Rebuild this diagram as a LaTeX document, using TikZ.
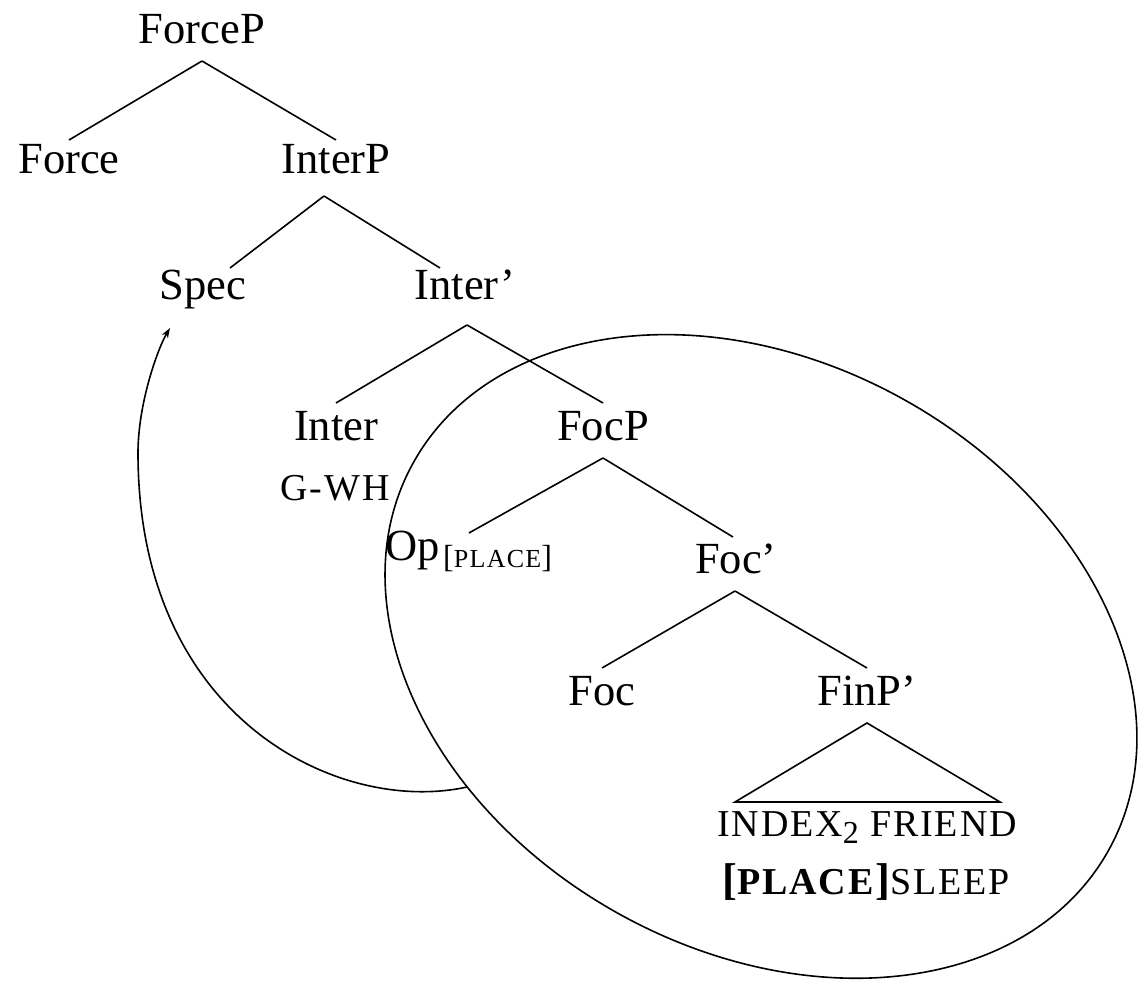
\documentclass[tikz,border=0pt]{standalone}
\usepackage{fontspec}
\setmainfont{Liberation Serif}
\newfontfamily\scf[LetterSpace=5]{Liberation Serif}
\usetikzlibrary{arrows.meta}
\newcommand\smc[1]{{\scf\fontsize{38}{38}\selectfont #1}}
\newcommand\smcb[1]{{\scf\bfseries\fontsize{38}{38}\selectfont #1}}
\begin{document}
\begin{tikzpicture}[x=1pt,y=-1pt,
  lab/.style={anchor=base,inner sep=0pt,font=\fontsize{44.5}{50}\selectfont},
  every path/.style={line width=1.6pt}]
\useasboundingbox (0,0) rectangle (1146,984);
% nodes
\node[lab] (ForceP) at (202,44) {ForceP};
\node[lab] (Force) at (69,174) {Force};
\node[lab] (InterP) at (336,174) {InterP};
\node[lab] (Spec) at (203,300) {Spec};
\node[lab] (Interb) at (465,300) {Inter’};
\node[lab] (Inter) at (336,440) {Inter};
\node[lab] (gwh) at (335,500) {\smc{G-WH}};
\node[lab] (FocP) at (603,440) {FocP};
\node[lab,anchor=base west] (Op) at (385,560) {Op\hspace{3pt}\raisebox{-7pt}{\fontsize{32}{32}\selectfont[{\scf\fontsize{26}{26}\selectfont PLACE}]}};
\node[lab] (Focb) at (736,573) {Foc’};
\node[lab] (Foc) at (602,705) {Foc};
\node[lab] (FinP) at (867,705) {FinP’};
\node[lab] (idx) at (867,836) {\smc{INDEX}\raisebox{-7pt}{\fontsize{32}{32}\selectfont 2} \smc{FRIEND}};
\node[lab] (ps) at (866,894) {\fontsize{44.5}{50}\selectfont\textbf{[}\smcb{PLACE}\textbf{]}\smc{SLEEP}};
% branches
\draw ([yshift=-17pt]ForceP.base) -- ([yshift=34pt]Force.base);
\draw ([yshift=-17pt]ForceP.base) -- ([yshift=34pt]InterP.base);
\draw ([xshift=-12pt,yshift=-22pt]InterP.base) -- ([xshift=27pt,yshift=32pt]Spec.base);
\draw ([xshift=-12pt,yshift=-22pt]InterP.base) -- ([xshift=-25pt,yshift=32pt]Interb.base);
\draw ([xshift=2pt,yshift=-25pt]Interb.base) -- ([yshift=37pt]Inter.base);
\draw ([xshift=2pt,yshift=-25pt]Interb.base) -- ([yshift=37pt]FocP.base);
\draw ([yshift=-18pt]FocP.base) -- ([yshift=27pt]Op.base);
\draw ([yshift=-18pt]FocP.base) -- ([xshift=-3pt,yshift=36pt]Focb.base);
\draw ([xshift=-1pt,yshift=-18pt]Focb.base) -- ([yshift=37pt]Foc.base);
\draw ([xshift=-1pt,yshift=-18pt]Focb.base) -- ([yshift=37pt]FinP.base);
\coordinate (tl) at (735,802);
\coordinate (tr) at (1000,802);
\draw ([yshift=-18pt]FinP.base) -- (tl) -- (tr) -- cycle;
% ellipse
\coordinate (ec) at (761,656.5);
\draw[rotate around={-29.2:(ec)}] (ec) ellipse [x radius=398pt, y radius=294pt];
% movement arrow
\coordinate (cs) at (467,787);
\coordinate (cl) at (138,453);
\coordinate (ce) at (170,328);
\draw[-{Stealth[length=10pt,width=7pt]}] (cs) .. controls (340,815) and (138,720) .. (cl)
  .. controls (138,403) and (158,348) .. (ce);
\end{tikzpicture}
\end{document}
